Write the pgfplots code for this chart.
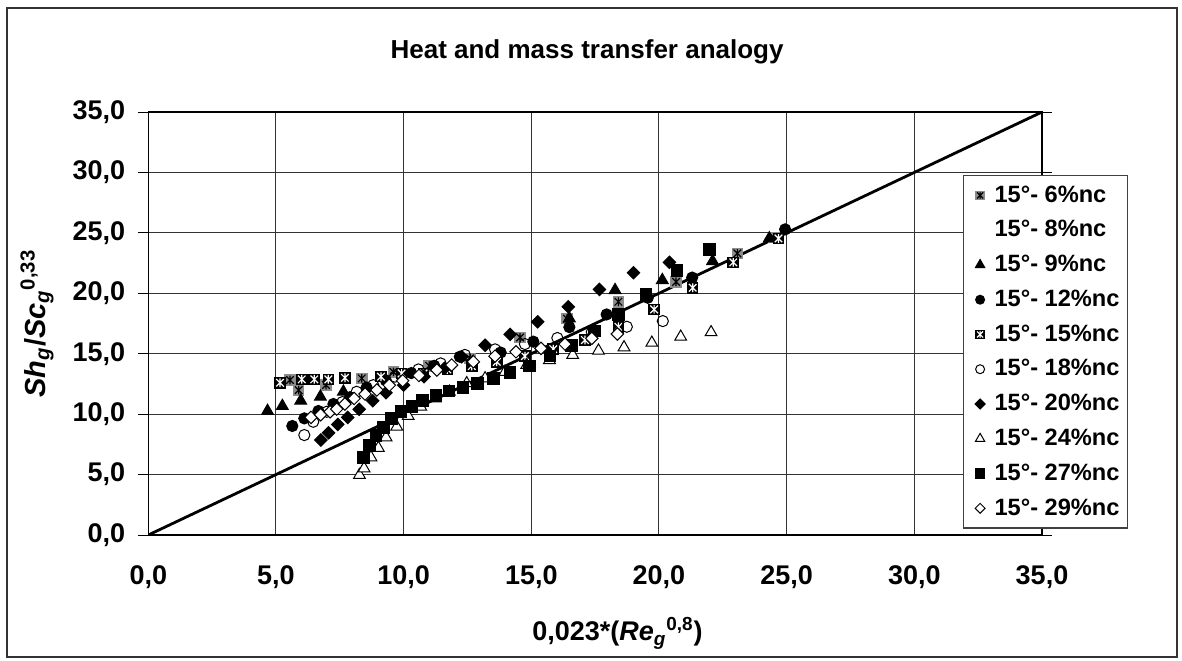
\documentclass[border=0pt]{standalone}
\usepackage{fontspec}
\setmainfont{Liberation Sans}
\usepackage{pgfplots}
\pgfplotsset{compat=1.18}
\makeatletter
\pgfdeclareplotmark{sqstarW}{%
  \pgfpathrectangle{\pgfqpoint{-\pgfplotmarksize}{-\pgfplotmarksize}}{\pgfqpoint{2\pgfplotmarksize}{2\pgfplotmarksize}}%
  \pgfsetfillcolor{black}\pgfusepathqfill
  \pgfsetstrokecolor{white}\pgfsetlinewidth{0.6pt}%
  \pgfpathmoveto{\pgfqpoint{0pt}{-0.75\pgfplotmarksize}}\pgfpathlineto{\pgfqpoint{0pt}{0.75\pgfplotmarksize}}%
  \pgfpathmoveto{\pgfqpoint{-0.65\pgfplotmarksize}{-0.65\pgfplotmarksize}}\pgfpathlineto{\pgfqpoint{0.65\pgfplotmarksize}{0.65\pgfplotmarksize}}%
  \pgfpathmoveto{\pgfqpoint{-0.65\pgfplotmarksize}{0.65\pgfplotmarksize}}\pgfpathlineto{\pgfqpoint{0.65\pgfplotmarksize}{-0.65\pgfplotmarksize}}%
  \pgfusepathqstroke
}
\pgfdeclareplotmark{sqstarK}{%
  \pgfpathrectangle{\pgfqpoint{-\pgfplotmarksize}{-\pgfplotmarksize}}{\pgfqpoint{2\pgfplotmarksize}{2\pgfplotmarksize}}%
  \pgfsetfillcolor{black!45}\pgfusepathqfill
  \pgfsetstrokecolor{black}\pgfsetlinewidth{0.6pt}%
  \pgfpathmoveto{\pgfqpoint{0pt}{-0.75\pgfplotmarksize}}\pgfpathlineto{\pgfqpoint{0pt}{0.75\pgfplotmarksize}}%
  \pgfpathmoveto{\pgfqpoint{-0.65\pgfplotmarksize}{-0.65\pgfplotmarksize}}\pgfpathlineto{\pgfqpoint{0.65\pgfplotmarksize}{0.65\pgfplotmarksize}}%
  \pgfpathmoveto{\pgfqpoint{-0.65\pgfplotmarksize}{0.65\pgfplotmarksize}}\pgfpathlineto{\pgfqpoint{0.65\pgfplotmarksize}{-0.65\pgfplotmarksize}}%
  \pgfusepathqstroke
}
\makeatother
\pgfplotsset{
  om/.style={only marks, line width=0.5pt,
    legend image code/.code={\path (-5pt,0pt) (5pt,0pt);\draw[##1,/tikz/every mark/.append style={scale=0.8}] plot coordinates {(0pt,0pt)};}},
}
\begin{document}
\begin{tikzpicture}
\begin{axis}[
  name=ax,
  at={(0,0)}, anchor=south west,
  scale only axis, width=446.85pt, height=211.5pt,
  xmin=0, xmax=35, ymin=0, ymax=35,
  xtick={0,5,...,35}, ytick={0,5,...,35},
  grid=major, major grid style={line width=0.5pt, black!80},
  axis line style={line width=0.6pt, black},
  tick align=outside, major tick length=5pt,
  x tick style={draw=none}, y tick style={line width=0.5pt, black},
  /pgf/number format/fixed, /pgf/number format/fixed zerofill,
  /pgf/number format/precision=1, /pgf/number format/use comma,
  /pgf/number format/assume math mode=true,
  tick label style={font=\bfseries\fontsize{13.5}{15}\selectfont},
  yticklabel style={xshift=-3pt},
  xticklabel style={yshift=-7pt},
  title={Heat and mass transfer analogy},
  title style={at={(rel axis cs:0.491,1)}, yshift=24pt, anchor=center, font=\bfseries\fontsize{13}{15}\selectfont},
  xlabel={\textbf{0,023*(\textit{Re}\textsubscript{\textit{g}}\textsuperscript{0,8})}},
  ylabel={\textbf{\textit{Sh}\textsubscript{\textit{g}}/\textit{Sc}\textsubscript{\textit{g}}\textsuperscript{0,33}}},
  every axis x label/.style={at={(rel axis cs:0.525,0)}, yshift=-49pt, anchor=center, font=\fontsize{13.5}{15}\selectfont},
  every axis y label/.style={at={(rel axis cs:0,0.5)}, xshift=-55.6pt, rotate=90, anchor=center, font=\fontsize{14.5}{16}\selectfont},
  legend cell align=left,
  legend style={at={(rel axis cs:0.9116,0.851)}, anchor=north west,
    draw=black!75, line width=0.6pt, fill=white,
    font=\bfseries\fontsize{11.8}{13}\selectfont,
    row sep=3.65pt, column sep=1pt, inner xsep=3pt, inner ysep=3pt,
    nodes={inner xsep=1pt}},
]
\addplot[forget plot, black, line width=1.4pt] coordinates {(0,0) (35,35)};

\addplot[om, mark=sqstarK, mark size=2.9pt] coordinates {
(5.55,12.82) (5.89,11.99) (6.96,12.41) (8.36,12.96) (9.6,13.5) (11.0,14.0) (12.6,14.6) (14.56,16.35) (16.4,17.9) (18.41,19.3) (20.67,20.95) (23.07,23.3) (24.5,24.6)};
\addlegendentry{15°- 6\%nc}
\addlegendimage{om, mark=*, white}
\addlegendentry{15°- 8\%nc}
\addplot[om, mark=triangle*, mark size=3.4pt, black, fill=black] coordinates {
(4.67,10.26) (5.25,10.67) (5.97,11.11) (6.74,11.44) (7.64,11.85) (16.49,17.92) (18.28,20.26) (20.13,21.09) (22.1,22.66) (24.32,24.54)};
\addlegendentry{15°- 9\%nc}
\addplot[om, mark=*, mark size=2.8pt, black, fill=black] coordinates {
(5.64,9.02) (6.11,9.65) (6.66,10.26) (7.25,10.84) (7.9,11.4) (8.55,12.2) (9.3,12.8) (10.3,13.4) (11.2,14.0) (12.2,14.75) (13.8,15.1) (15.08,16.0) (16.49,17.2) (17.95,18.25) (19.56,19.63) (21.3,21.3) (24.94,25.29)};
\addlegendentry{15°- 12\%nc}
\addplot[om, mark=sqstarW, mark size=2.9pt] coordinates {
(5.16,12.6) (6.01,12.88) (6.5,12.88) (7.05,12.88) (7.7,13.01) (9.11,13.1) (9.92,13.37) (10.78,13.37) (11.71,13.7) (12.67,13.98) (13.65,14.33) (14.75,14.8) (15.86,15.38) (17.1,16.13) (18.41,17.23) (19.81,18.67) (21.32,20.46) (22.91,22.56) (24.68,24.54)};
\addlegendentry{15°- 15\%nc}
\addplot[om, mark=o, mark size=2.8pt, black, fill=white] coordinates {
(6.11,8.27) (6.46,9.37) (6.99,10.2) (7.6,11.0) (8.16,11.85) (8.81,12.4) (9.66,13.1) (10.58,13.7) (11.45,14.2) (12.4,14.9) (13.58,15.36) (14.75,15.8) (16.02,16.3) (17.37,16.8) (18.74,17.23) (20.15,17.7)};
\addlegendentry{15°- 18\%nc}
\addplot[om, mark=square*, mark size=2.2pt, mark options={rotate=45}, black, fill=black] coordinates {
(6.76,7.86) (7.06,8.46) (7.42,9.15) (7.81,9.73) (8.26,10.4) (8.79,11.11) (9.31,11.77) (10.0,12.4) (10.8,13.1) (11.6,13.8) (12.27,14.75) (13.19,15.7) (14.17,16.6) (15.25,17.64) (16.45,18.88) (17.67,20.32) (19.0,21.7) (20.41,22.56)};
\addlegendentry{15°- 20\%nc}
\addplot[om, mark=triangle*, mark size=3.4pt, black, fill=white] coordinates {
(8.27,4.96) (8.45,5.51) (8.72,6.42) (9.01,7.2) (9.31,8.08) (9.73,8.96) (10.18,9.84) (10.67,10.61) (11.23,11.3) (11.79,11.85) (12.47,12.55) (13.19,12.96) (13.97,13.5) (14.82,14.06) (15.71,14.47) (16.62,14.89) (17.63,15.25) (18.63,15.52) (19.72,15.9) (20.85,16.4) (22.04,16.77)};
\addlegendentry{15°- 24\%nc}
\addplot[om, mark=square*, mark size=2.9pt, black, fill=black] coordinates {
(8.42,6.42) (8.66,7.42) (8.91,8.24) (9.2,8.9) (9.53,9.65) (9.89,10.2) (10.32,10.61) (10.75,11.11) (11.26,11.52) (11.78,11.91) (12.32,12.22) (12.89,12.55) (13.51,12.96) (14.17,13.46) (14.92,14.0) (15.73,14.8) (16.58,15.7) (17.47,16.87) (18.41,18.25) (19.49,19.9) (20.7,21.9) (21.97,23.63)};
\addlegendentry{15°- 27\%nc}
\addplot[om, mark=square*, mark size=2.2pt, mark options={rotate=45}, black, fill=white] coordinates {
(6.37,9.73) (6.75,9.95) (7.12,10.2) (7.38,10.42) (7.7,10.84) (8.06,11.3) (8.49,11.66) (8.95,12.0) (9.44,12.4) (9.96,12.77) (10.6,13.2) (11.3,13.65) (11.88,14.06) (12.73,14.33) (13.58,14.8) (14.4,15.16) (15.38,15.44) (16.32,15.8) (17.37,16.27) (18.37,16.63)};
\addlegendentry{15°- 29\%nc}
\end{axis}
\pgfresetboundingbox
\path[use as bounding box] (-74.15pt,-62.5pt) rectangle (516.85pt,267.5pt);
\draw[black!80, line width=0.75pt] (-70.65pt,-61pt) rectangle (514.35pt,263.5pt);
\end{tikzpicture}
\end{document}
